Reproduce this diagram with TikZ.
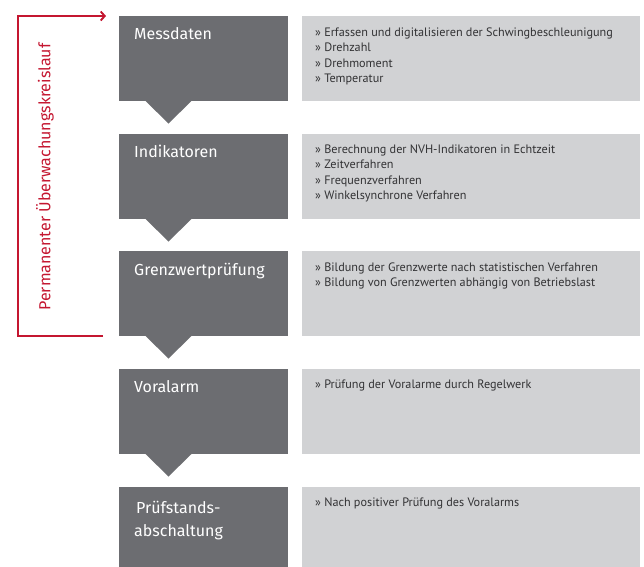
\documentclass[tikz,border=0pt]{standalone}
\usepackage{fontspec}
\setmainfont{PT Sans}
\newfontfamily\titlefont{Fira Sans}
\usetikzlibrary{arrows.meta}
\definecolor{stepgray}{RGB}{108,109,113}
\definecolor{notegray}{RGB}{209,210,212}
\definecolor{loopred}{RGB}{196,22,48}
\definecolor{notetext}{RGB}{50,50,52}
\begin{document}
\begin{tikzpicture}[x=1pt,y=-1pt,
  stepbox/.style={fill=stepgray,draw=none},
  notebox/.style={fill=notegray,draw=none},
  pointer/.style={fill=stepgray,draw=none},
  steptitle/.style={anchor=base west,inner sep=0pt,text=white,font=\titlefont\fontsize{16}{23}\selectfont,align=left},
  notetext/.style={anchor=base west,inner sep=0pt,text=notetext,font=\fontsize{12.2}{15.5}\selectfont,align=left},
  loop/.style={draw=loopred,line width=1.9pt}]
\useasboundingbox (0,0) rectangle (644,566);

% step boxes (dark) and notes (light)
\foreach \t in {16,134,251,369,487}{
  \fill[stepbox] (119,\t) rectangle (288,\t+85);
  \fill[notebox] (302,\t) rectangle (640,\t+85);
}
% downward pointers between steps
\foreach \t in {101,219,336,454}{
  \fill[pointer] (145,\t-0.5) -- (192,\t-0.5) -- (168.5,\t+22.5) -- cycle;
}

% step titles (base anchor sits on the last line)
\node[steptitle] (s1) at (134,39) {Messdaten};
\node[steptitle] (s2) at (134,157) {Indikatoren};
\node[steptitle] (s3) at (134,275) {Grenzwertprüfung};
\node[steptitle] (s4) at (134,392) {Voralarm};
\node[steptitle] (s5) at (134,536) {\hspace{2pt}Prüfstands-\\abschaltung};

% notes
\node[notetext] (n1) at (315,82.5) {» Erfassen und digitalisieren der Schwingbeschleunigung\\» Drehzahl\\» Drehmoment\\» Temperatur};
\node[notetext] (n2) at (315,199.5) {» Berechnung der NVH-Indikatoren in Echtzeit\\» Zeitverfahren\\» Frequenzverfahren\\» Winkelsynchrone Verfahren};
\node[notetext] (n3) at (315,286.5) {» Bildung der Grenzwerte nach statistischen Verfahren\\» Bildung von Grenzwerten abhängig von Betriebslast};
\node[notetext] (n4) at (315,388) {» Prüfung der Voralarme durch Regelwerk};
\node[notetext] (n5) at (315,506) {» Nach positiver Prüfung des Voralarms};

% monitoring loop back to the first step
\coordinate (lp0) at (103,336);
\coordinate (lp1) at (18,336);
\coordinate (lp2) at (18,16);
\coordinate (lp3) at (106,16);
\draw[loop,-{Straight Barb[length=4pt,width=9pt,line width=1.9pt]}] (lp0) -- (lp1) -- (lp2) -- (lp3);
\node[rotate=90,text=loopred,font=\titlefont\fontsize{16}{18}\selectfont,inner sep=0pt] (lbl) at (45,177) {Permanenter Überwachungskreislauf};
\end{tikzpicture}
\end{document}
